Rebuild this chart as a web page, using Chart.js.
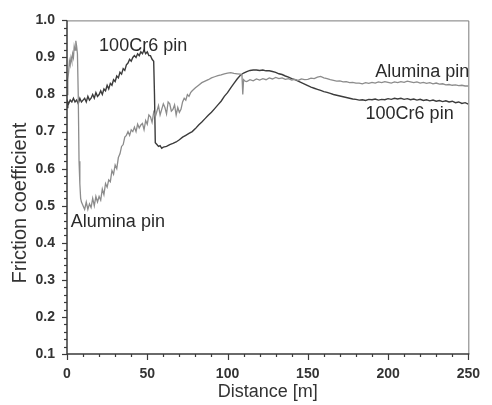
<!DOCTYPE html>
<html>
<head>
<meta charset="utf-8">
<script src="https://cdn.jsdelivr.net/npm/chart.js@4.4.1/dist/chart.umd.min.js"></script>
<style>
  html, body { margin: 0; padding: 0; background: #fff; }
</style>
</head>
<body>
<canvas id="myChart" width="492" height="405"></canvas>
<script>
// Alumina pin (light grey curve)
const aluminaDistance = [
  0, 0.5, 1, 1.5, 2, 2.5, 3, 3.5, 4, 4.5, 5, 5.5, 6, 6.5, 7, 7.5, 8, 8.5, 9,
  10, 11, 12, 13, 14, 15, 16, 17, 18, 19,
  20, 21, 22, 23, 24, 25, 26, 27, 28, 29, 30, 31, 32, 33, 34, 35, 36, 37, 38, 39,
  40, 41, 42, 43, 44, 45, 46, 47, 48, 49, 50, 51, 52, 53, 54, 55, 56, 57, 58, 59,
  60, 61, 62, 63, 64, 65, 66, 67, 68, 69, 70, 71, 72, 73, 74, 75, 76, 77, 78,
  80, 82, 84, 86, 88, 90, 92, 94, 96, 98, 100, 102, 104, 106, 108, 109, 109.5, 110, 111,
  112, 114, 116, 118, 120, 122, 124, 126, 128, 130, 132, 134, 136, 138, 140, 142, 144, 146, 148,
  150, 152, 154, 156, 158, 160, 162, 164, 166, 168, 170, 172, 174, 176, 178, 180,
  182, 184, 186, 188, 190, 192, 194, 196, 198, 200, 202, 204, 206, 208, 210, 212, 214, 216,
  218, 220, 222, 224, 226, 228, 230, 232, 234, 236, 238, 240, 242, 244, 246, 248, 250
];
const aluminaFriction = [
  0.80, 0.84, 0.86, 0.89, 0.88, 0.90, 0.89, 0.91, 0.90, 0.93, 0.92, 0.945, 0.93, 0.91, 0.80, 0.62, 0.56, 0.52, 0.51,
  0.50, 0.49, 0.51, 0.49, 0.505, 0.495, 0.52, 0.50, 0.525, 0.51,
  0.525, 0.515, 0.545, 0.53, 0.56, 0.55, 0.57, 0.565, 0.595, 0.585, 0.61, 0.60, 0.63, 0.64, 0.66, 0.665, 0.685, 0.69, 0.70, 0.69,
  0.705, 0.70, 0.712, 0.70, 0.72, 0.71, 0.718, 0.722, 0.705, 0.73, 0.72, 0.745, 0.74, 0.725, 0.752, 0.74, 0.755, 0.77, 0.745, 0.76,
  0.775, 0.765, 0.748, 0.78, 0.775, 0.755, 0.76, 0.772, 0.745, 0.765, 0.752, 0.76, 0.78, 0.79, 0.785, 0.80, 0.795, 0.805, 0.81,
  0.818, 0.825, 0.832, 0.836, 0.84, 0.845, 0.848, 0.851, 0.853, 0.856, 0.858, 0.859, 0.857, 0.856, 0.855, 0.852, 0.80, 0.84, 0.836,
  0.835, 0.84, 0.837, 0.842, 0.839, 0.843, 0.84, 0.845, 0.842, 0.846, 0.843, 0.845, 0.841, 0.843, 0.839, 0.841, 0.838, 0.842, 0.84,
  0.841, 0.844, 0.843, 0.847, 0.849, 0.845, 0.843, 0.84, 0.838, 0.836, 0.837, 0.834, 0.835, 0.832, 0.833, 0.831,
  0.831, 0.829, 0.832, 0.83, 0.833, 0.831, 0.834, 0.832, 0.835, 0.833, 0.831, 0.834, 0.832, 0.835, 0.833, 0.836, 0.834, 0.832,
  0.834, 0.831, 0.833, 0.83, 0.832, 0.829, 0.831, 0.828, 0.829, 0.826, 0.827, 0.825, 0.826, 0.824, 0.825, 0.823, 0.823
];

// 100Cr6 pin (dark curve)
const cr6Distance = [
  0, 0.5, 1, 2, 3, 4, 5, 6, 7, 8, 9, 10, 11, 12, 13, 14, 15, 16, 17, 18, 19,
  20, 21, 22, 23, 24, 25, 26, 27, 28, 29, 30, 31, 32, 33, 34, 35, 36, 37, 38, 39,
  40, 41, 42, 43, 44, 45, 46, 47, 48, 49, 50, 51, 52, 53, 54, 54.5, 55, 56, 57, 58, 59,
  60, 62, 64, 66, 68, 70, 72, 74, 76, 78, 80, 82, 84, 86, 88, 90, 92, 94, 96, 98,
  100, 102, 104, 106, 108, 110, 112, 114, 116, 118, 120, 122, 124, 126, 128, 130, 132, 134, 136, 138,
  140, 142, 144, 146, 148, 150, 152, 154, 156, 158, 160, 162, 164, 166, 168, 170, 172, 174, 176, 178,
  180, 182, 184, 186, 188, 190, 192, 194, 196, 198, 200, 202, 204, 206, 208, 210, 212, 214, 216, 218,
  220, 222, 224, 226, 228, 230, 232, 234, 236, 238, 240, 242, 244, 246, 248, 250
];
const cr6Friction = [
  0.765, 0.78, 0.775, 0.785, 0.78, 0.79, 0.78, 0.785, 0.775, 0.79, 0.78, 0.785, 0.79, 0.78, 0.795, 0.785, 0.79, 0.80, 0.79, 0.805, 0.795,
  0.80, 0.81, 0.80, 0.815, 0.81, 0.825, 0.815, 0.83, 0.825, 0.84, 0.835, 0.85, 0.845, 0.86, 0.855, 0.87, 0.865, 0.88, 0.885, 0.895,
  0.89, 0.90, 0.905, 0.90, 0.91, 0.905, 0.915, 0.91, 0.92, 0.91, 0.915, 0.905, 0.905, 0.895, 0.89, 0.80, 0.67, 0.665, 0.66, 0.662, 0.655,
  0.658, 0.66, 0.665, 0.668, 0.672, 0.678, 0.685, 0.69, 0.695, 0.70, 0.708, 0.718, 0.726, 0.735, 0.744, 0.752, 0.762, 0.772, 0.782, 0.795,
  0.805, 0.818, 0.83, 0.842, 0.852, 0.858, 0.862, 0.865, 0.866, 0.866, 0.865, 0.866, 0.864, 0.864, 0.862, 0.86, 0.856, 0.854, 0.85, 0.847,
  0.843, 0.84, 0.836, 0.832, 0.828, 0.824, 0.82, 0.817, 0.814, 0.811, 0.808, 0.806, 0.803, 0.80, 0.798, 0.796, 0.794, 0.792, 0.79, 0.788,
  0.787, 0.785, 0.786, 0.784, 0.787, 0.786, 0.788, 0.785, 0.787, 0.786, 0.789, 0.787, 0.79, 0.788, 0.79, 0.787, 0.789, 0.786, 0.788, 0.785,
  0.787, 0.784, 0.786, 0.783, 0.785, 0.782, 0.784, 0.781, 0.783, 0.78, 0.782, 0.778, 0.78, 0.776, 0.778, 0.774
];

// axis ticks and curve labels
const yTickValues = [0.1, 0.2, 0.3, 0.4, 0.5, 0.6, 0.7, 0.8, 0.9, 1.0];
const xTickValues = [0, 50, 100, 150, 200, 250];
const curveLabels = [
  { text: '100Cr6 pin', x: 20, y: 0.917 },
  { text: 'Alumina pin', x: 2.4, y: 0.442 },
  { text: 'Alumina pin', x: 192, y: 0.847 },
  { text: '100Cr6 pin', x: 186, y: 0.734 }
];

function toPoints(xs, ys) {
  return xs.map((d, i) => ({ x: d, y: ys[i] }));
}

const axisDecor = {
  id: 'axisDecor',
  afterDraw(chart) {
    const { ctx, chartArea: area, scales: { x, y } } = chart;
    ctx.save();

    // frame: top and right lighter
    ctx.strokeStyle = '#7a7a7a';
    ctx.lineWidth = 1;
    ctx.beginPath();
    ctx.moveTo(area.left, area.top + 0.5);
    ctx.lineTo(area.right + 0.5, area.top + 0.5);
    ctx.lineTo(area.right + 0.5, area.bottom);
    ctx.stroke();

    ctx.strokeStyle = '#3a3a3a';
    ctx.lineWidth = 1.5;
    ctx.beginPath();
    ctx.moveTo(area.left, area.top);
    ctx.lineTo(area.left, area.bottom);
    ctx.lineTo(area.right + 1, area.bottom);
    ctx.stroke();

    // minor + major ticks
    ctx.lineWidth = 1.2;
    for (let v = 10; v <= 100; v += 2) {
      const py = Math.round(y.getPixelForValue(v / 100)) + 0.5;
      const len = v % 10 === 0 ? 5 : 3;
      ctx.beginPath();
      ctx.moveTo(area.left - len, py);
      ctx.lineTo(area.left, py);
      ctx.stroke();
    }
    for (let d = 0; d <= 250; d += 10) {
      const px = Math.round(x.getPixelForValue(d)) + 0.5;
      const len = d % 50 === 0 ? 6 : 3;
      ctx.beginPath();
      ctx.moveTo(px, area.bottom);
      ctx.lineTo(px, area.bottom + len);
      ctx.stroke();
    }

    // axis titles
    ctx.fillStyle = '#333';
    ctx.font = '20px "Liberation Sans", Arial, sans-serif';
    ctx.textAlign = 'center';
    ctx.textBaseline = 'middle';
    ctx.save();
    ctx.translate(20, 203);
    ctx.rotate(-Math.PI / 2);
    ctx.fillText('Friction coefficient', 0, 0);
    ctx.restore();
    ctx.font = '18px "Liberation Sans", Arial, sans-serif';
    ctx.fillText('Distance [m]', (area.left + area.right) / 2, 392);

    // curve labels
    ctx.font = '18px "Liberation Sans", Arial, sans-serif';
    ctx.textAlign = 'left';
    ctx.textBaseline = 'alphabetic';
    ctx.fillStyle = '#2a2a2a';
    curveLabels.forEach((lab) => {
      ctx.fillText(lab.text, x.getPixelForValue(lab.x), y.getPixelForValue(lab.y));
    });

    ctx.restore();
  }
};

function initChart(target) {
  const data = {
    datasets: [
      {
        label: 'Alumina pin',
        data: toPoints(aluminaDistance, aluminaFriction),
        borderColor: '#8c8c8c',
        borderWidth: 1.3,
        pointRadius: 0,
        tension: 0
      },
      {
        label: '100Cr6 pin',
        data: toPoints(cr6Distance, cr6Friction),
        borderColor: '#3c3c3c',
        borderWidth: 1.4,
        pointRadius: 0,
        tension: 0
      }
    ]
  };

  const config = {
    type: 'line',
    data: data,
    options: {
      responsive: false,
      animation: false,
      devicePixelRatio: 1,
      layout: { padding: { top: 19, right: 14, left: 0, bottom: 0 } },
      plugins: { legend: { display: false }, tooltip: { enabled: false } },
      scales: {
        x: {
          type: 'linear',
          min: 0,
          max: 250,
          afterFit: (scale) => { scale.height = 51; },
          afterBuildTicks: (scale) => { scale.ticks = xTickValues.map((v) => ({ value: v })); },
          grid: { display: false, drawTicks: false },
          border: { display: false },
          ticks: {
            padding: 12,
            color: '#333',
            font: { family: '"Liberation Sans", Arial, sans-serif', size: 14, weight: 'bold' },
            maxRotation: 0
          }
        },
        y: {
          min: 0.1,
          max: 1.0,
          afterFit: (scale) => { scale.width = 67; },
          afterBuildTicks: (scale) => { scale.ticks = yTickValues.map((v) => ({ value: v })); },
          grid: { display: false, drawTicks: false },
          border: { display: false },
          ticks: {
            padding: 12,
            color: '#333',
            font: { family: '"Liberation Sans", Arial, sans-serif', size: 14, weight: 'bold' },
            callback: (v) => v.toFixed(1)
          }
        }
      }
    },
    plugins: [axisDecor]
  };

  return new Chart(target, config);
}

document.addEventListener('DOMContentLoaded', () => {
  initChart(document.querySelector('#myChart'));
});
</script>
</body>
</html>
